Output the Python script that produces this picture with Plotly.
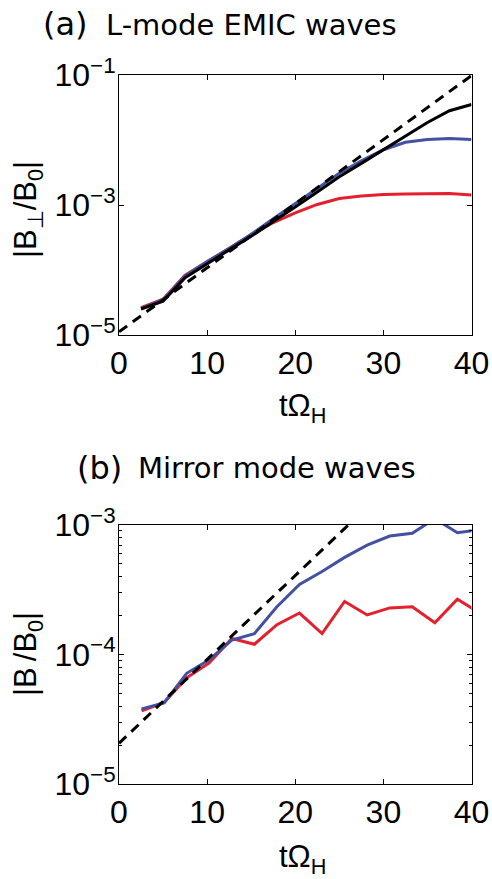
import plotly.graph_objects as go

# ---------------- data ----------------
# Panel (a): L-mode EMIC waves
t_a = [2.5, 5, 7.5, 10, 12.5, 15, 17.5, 20, 22.5, 25, 27.5, 30, 32.5, 35, 37.5, 40]
red_a = [2.63e-5, 3.55e-5, 8.32e-5, 1.35e-4, 2.14e-4, 3.47e-4, 5.37e-4, 7.59e-4,
         1.02e-3, 1.26e-3, 1.38e-3, 1.45e-3, 1.48e-3, 1.51e-3, 1.50e-3, 1.43e-3]
blue_a = [2.57e-5, 3.47e-5, 8.13e-5, 1.35e-4, 2.14e-4, 3.55e-4, 6.17e-4, 1.05e-3,
          1.78e-3, 3.09e-3, 4.79e-3, 7.08e-3, 9.23e-3, 1.02e-2, 1.05e-2, 1.02e-2]
black_a = [2.51e-5, 3.31e-5, 7.59e-5, 1.26e-4, 2.04e-4, 3.31e-4, 5.50e-4, 9.33e-4,
           1.58e-3, 2.72e-3, 4.37e-3, 7.08e-3, 1.15e-2, 1.86e-2, 2.82e-2, 3.51e-2]
fit_t_a = [0, 40]
fit_a = [1.12e-5, 9.8e-2]

# Panel (b): Mirror mode waves
t_b = [2.56, 5.12, 7.68, 10.24, 12.8, 15.36, 17.92, 20.48, 23.04, 25.6,
       28.16, 30.72, 33.28, 35.84, 38.4, 40.96]
blue_b = [3.80e-5, 4.22e-5, 7.16e-5, 9.12e-5, 1.29e-4, 1.45e-4, 2.34e-4, 3.47e-4,
          4.37e-4, 5.62e-4, 7.00e-4, 8.22e-4, 8.63e-4, 1.12e-3, 8.71e-4, 9.20e-4]
red_b = [3.68e-5, 4.27e-5, 6.61e-5, 8.61e-5, 1.33e-4, 1.20e-4, 1.70e-4, 2.09e-4,
         1.45e-4, 2.57e-4, 2.02e-4, 2.29e-4, 2.34e-4, 1.76e-4, 2.67e-4, 2.09e-4]
fit_t_b = [0, 40]
fit_b = [2.06e-5, 8.05e-3]

x_ticks = [0, 10, 20, 30, 40]
y_ticks_a = [1e-5, 1e-3, 1e-1]
y_ticktext_a = ["10<sup>−5</sup>", "10<sup>−3</sup>", "10<sup>−1</sup>"]
y_ticks_b = [1e-5, 1e-4, 1e-3]
y_ticktext_b = ["10<sup>−5</sup>", "10<sup>−4</sup>", "10<sup>−3</sup>"]

RED = "#E5202E"
BLUE = "#4450A0"
BLACK = "#000000"

W, H = 492, 879


def px(x):
    return x / W


def py(y):
    return 1 - y / H


fig = go.Figure()

# panel (a)
fig.add_trace(go.Scatter(x=t_a, y=red_a, mode="lines", line=dict(color=RED, width=3),
                         xaxis="x", yaxis="y"))
fig.add_trace(go.Scatter(x=t_a, y=blue_a, mode="lines", line=dict(color=BLUE, width=3),
                         xaxis="x", yaxis="y"))
fig.add_trace(go.Scatter(x=t_a, y=black_a, mode="lines", line=dict(color=BLACK, width=3),
                         xaxis="x", yaxis="y"))
fig.add_trace(go.Scatter(x=fit_t_a, y=fit_a, mode="lines",
                         line=dict(color=BLACK, width=3, dash="10px,7px"),
                         xaxis="x", yaxis="y"))

# panel (b)
fig.add_trace(go.Scatter(x=t_b, y=red_b, mode="lines", line=dict(color=RED, width=3),
                         xaxis="x2", yaxis="y2"))
fig.add_trace(go.Scatter(x=t_b, y=blue_b, mode="lines", line=dict(color=BLUE, width=3),
                         xaxis="x2", yaxis="y2"))
fig.add_trace(go.Scatter(x=fit_t_b, y=fit_b, mode="lines",
                         line=dict(color=BLACK, width=3, dash="10px,7px"),
                         xaxis="x2", yaxis="y2"))

TICKFONT = dict(family="Liberation Sans, Arial", size=32, color="black")

xcommon = dict(range=[0, 40], tickmode="array", tickvals=x_ticks, ticks="inside",
               ticklen=5, tickcolor="black", showline=True, linecolor="black",
               linewidth=1, mirror="ticks", showgrid=False, zeroline=False,
               automargin=False, tickfont=TICKFONT, domain=[px(119), px(471.5)])

ycommon = dict(type="log", tickmode="array", ticks="inside", ticklen=5,
               tickcolor="black", showline=True, linecolor="black", linewidth=1,
               mirror="ticks", showgrid=False, zeroline=False, automargin=False,
               tickfont=TICKFONT, ticklabelstandoff=-4)

fig.update_layout(
    width=W, height=H,
    margin=dict(l=0, r=0, t=0, b=0, autoexpand=False),
    paper_bgcolor="white", plot_bgcolor="white",
    showlegend=False,
    xaxis=dict(anchor="y", **xcommon),
    xaxis2=dict(anchor="y2", **xcommon),
    yaxis=dict(range=[-5, -1], domain=[py(335), py(75)], anchor="x",
               tickvals=y_ticks_a, ticktext=y_ticktext_a, **ycommon),
    yaxis2=dict(range=[-5, -3], domain=[py(784), py(525)], anchor="x2",
                tickvals=y_ticks_b, ticktext=y_ticktext_b, **ycommon,
                minor=dict(ticks="inside", ticklen=3, tickcolor="black",
                           tickvals=[k * 10 ** e for e in (-5, -4) for k in range(2, 10)],
                           showgrid=False)),
)

TITLEFONT = dict(family="DejaVu Sans", size=29, color="black")
LABELFONT = dict(family="Liberation Sans, Arial", size=31, color="black")

ann = [
    dict(text="(a)", x=px(65), y=py(24), font=dict(family="DejaVu Sans", size=32, color="black"),
         xanchor="center", yanchor="middle"),
    dict(text="L-mode EMIC waves", x=px(104), y=py(25), font=TITLEFONT,
         xanchor="left", yanchor="middle"),
    dict(text="(b)", x=px(99), y=py(468), font=dict(family="DejaVu Sans", size=32, color="black"),
         xanchor="center", yanchor="middle"),
    dict(text="Mirror mode waves", x=px(136), y=py(468), font=TITLEFONT,
         xanchor="left", yanchor="middle"),
    dict(text="|B<sub>⊥</sub>/B<sub>0</sub>|", x=px(28), y=py(210), textangle=-90,
         font=LABELFONT, xanchor="center", yanchor="middle"),
    dict(text="|B<sub> </sub>/B<sub>0</sub>|", x=px(28), y=py(654), textangle=-90,
         font=LABELFONT, xanchor="center", yanchor="middle"),
    dict(text="tΩ<sub>H</sub>", x=px(302), y=py(408), font=LABELFONT,
         xanchor="center", yanchor="middle"),
    dict(text="tΩ<sub>H</sub>", x=px(302), y=py(859), font=LABELFONT,
         xanchor="center", yanchor="middle"),
]
for a in ann:
    a.update(xref="paper", yref="paper", showarrow=False)
fig.update_layout(annotations=ann)

fig.write_html(
    "out.html",
    config={"displayModeBar": False, "staticPlot": True},
    post_script="document.body.style.margin='0';document.body.style.overflow='hidden';",
)
